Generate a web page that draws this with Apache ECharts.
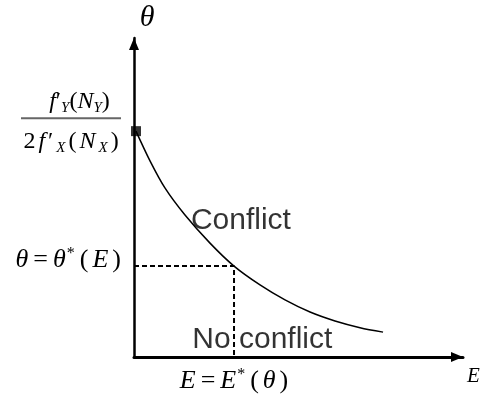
<!DOCTYPE html>
<html>
<head>
<meta charset="utf-8">
<script src="https://cdn.jsdelivr.net/npm/echarts@6/dist/echarts.min.js"></script>
<style>
  html, body { margin: 0; padding: 0; background: #fff; }
  #chart { width: 485px; height: 394px; }
</style>
</head>
<body>
<div id="chart"></div>
<script>
    // curve theta*(E) (arbitrary units 0..10)
    const eValues = [0.06, 0.49, 0.94, 1.55, 2.31, 3.04, 3.83, 4.59, 5.35, 6.11, 6.87, 7.57];
    const thetaValues = [7.08, 6.14, 5.30, 4.45, 3.57, 2.85, 2.26, 1.79, 1.41, 1.13, 0.92, 0.78];
    const thresholdE = 3.04;
    const thresholdTheta = 2.85;
    const startTheta = 7.08;

    const yTickValues = [startTheta, thresholdTheta];
    const yTickLabels = [
        '{nf|f}{nu|′}{sub|Y}{nu|(}{ni|N}{sub|Y}{nu|)}\n{bar| }\n{gap| }\n{du|2}{di|f}{du|′}{dsub|X}{du|(}{di|N}{dsub|X}{du|)}\n{tail| }',
        '{m|θ}{op|=}{m|θ}{sup|*}{pl|(}{m|E}{pr|)}\n{tail2| }'
    ];
    const xTickValues = [thresholdE];
    const xTickLabels = ['{m|E}{op|=}{m|E}{sup|*}{pl|(}{m|θ}{pr|)}'];
    const regionLabels = ['Conflict', 'No conflict'];

    const serif = '"Liberation Serif", "DejaVu Serif", serif';
    const sans = '"Liberation Sans", Arial, sans-serif';

    let chart = echarts.init(document.getElementById('chart'));

    const mathRich = {
        // fraction
        nf: {fontFamily: serif, fontStyle: 'italic', fontSize: 24, color: '#000', lineHeight: 26, align: 'center', padding: [0, 0, 0, 17]},
        ni: {fontFamily: serif, fontStyle: 'italic', fontSize: 24, color: '#000', lineHeight: 26, align: 'center'},
        nu: {fontFamily: serif, fontSize: 24, color: '#000', lineHeight: 26, align: 'center'},
        sub: {fontFamily: serif, fontStyle: 'italic', fontSize: 15, color: '#000', lineHeight: 15, verticalAlign: 'bottom', align: 'center'},
        di: {fontFamily: serif, fontStyle: 'italic', fontSize: 24, color: '#000', lineHeight: 26, align: 'center', padding: [0, 1.5, 0, 1.5]},
        du: {fontFamily: serif, fontSize: 24, color: '#000', lineHeight: 26, align: 'center', padding: [0, 1.5, 0, 1.5]},
        dsub: {fontFamily: serif, fontStyle: 'italic', fontSize: 15, color: '#000', lineHeight: 15, verticalAlign: 'bottom', align: 'center', padding: [0, 1.5, 0, 1.5]},
        bar: {width: 100, height: 2, lineHeight: 6, backgroundColor: '#666', fontSize: 1, align: 'center'},
        gap: {fontSize: 1, lineHeight: 8, align: 'center'},
        tail: {fontSize: 1, lineHeight: 18, align: 'center'},
        tail2: {fontSize: 1, lineHeight: 12},
        // equations
        m: {fontFamily: serif, fontStyle: 'italic', fontSize: 26, color: '#000', lineHeight: 28},
        op: {fontFamily: serif, fontSize: 26, color: '#000', lineHeight: 28, padding: [0, 5, 0, 5]},
        pl: {fontFamily: serif, fontSize: 26, color: '#000', lineHeight: 28, padding: [0, 4, 0, 3]},
        pr: {fontFamily: serif, fontSize: 26, color: '#000', lineHeight: 28, padding: [0, 0, 0, 4]},
        sup: {fontFamily: serif, fontSize: 16, color: '#000', lineHeight: 16, verticalAlign: 'top', padding: [0, 2, 0, 1]}
    };

    const option = {
        animation: false,
        backgroundColor: '#fff',
        grid: {
            left: 134,
            right: 22,
            top: 38,
            bottom: 37
        },
        xAxis: {
            type: 'value',
            min: 0,
            max: 10,
            name: '{e|E}',
            nameGap: 4,
            nameTextStyle: {
                rich: {
                    e: {fontFamily: serif, fontStyle: 'italic', fontSize: 21, color: '#000', lineHeight: 22, padding: [38, 0, 0, 0]}
                }
            },
            axisLine: {
                lineStyle: {color: '#000', width: 3},
                symbol: ['none', 'triangle'],
                symbolSize: [10, 12],
                symbolOffset: [0, -6]
            },
            axisTick: {show: false},
            splitLine: {show: false},
            axisLabel: {
                customValues: xTickValues,
                margin: 10,
                formatter: function (v) {
                    return xTickLabels[xTickValues.indexOf(v)] || '';
                },
                rich: mathRich
            }
        },
        yAxis: {
            type: 'value',
            min: 0,
            max: 10,
            name: 'θ',
            nameGap: 5,
            nameTextStyle: {
                fontFamily: serif, fontStyle: 'italic', fontSize: 30, color: '#000',
                padding: [0, 0, 0, 26]
            },
            axisLine: {
                lineStyle: {color: '#000', width: 2.5},
                symbol: ['none', 'triangle'],
                symbolSize: [10, 12],
                symbolOffset: [0, -6]
            },
            axisTick: {show: false},
            splitLine: {show: false},
            axisLabel: {
                customValues: yTickValues,
                margin: 13,
                formatter: function (v) {
                    return yTickLabels[yTickValues.indexOf(v)] || '';
                },
                rich: mathRich
            }
        },
        series: [
            {
                name: 'curve',
                type: 'line',
                smooth: 0.3,
                showSymbol: false,
                lineStyle: {color: '#000', width: 1.5},
                data: eValues.map(function (e, i) { return [e, thetaValues[i]]; })
            },
            {
                name: 'start',
                type: 'scatter',
                symbol: 'rect',
                symbolSize: 10,
                itemStyle: {color: '#000'},
                data: [[eValues[0], startTheta]],
                z: 5
            },
            {
                name: 'threshold',
                type: 'line',
                showSymbol: false,
                lineStyle: {color: '#000', width: 2, type: [5, 3]},
                data: [[0, thresholdTheta], [thresholdE, thresholdTheta], [thresholdE, 0]]
            },
            {
                name: 'regions',
                type: 'scatter',
                symbolSize: 0,
                label: {
                    show: true,
                    position: 'inside',
                    fontFamily: sans,
                    fontSize: 30,
                    color: '#000',
                    formatter: function (p) { return regionLabels[p.dataIndex]; }
                },
                data: [[3.25, 4.26], [3.9, 0.53]]
            }
        ]
    };

    chart.setOption(option);

    window.addEventListener('resize', function () {
        chart.resize();
    });
</script>
</body>
</html>
